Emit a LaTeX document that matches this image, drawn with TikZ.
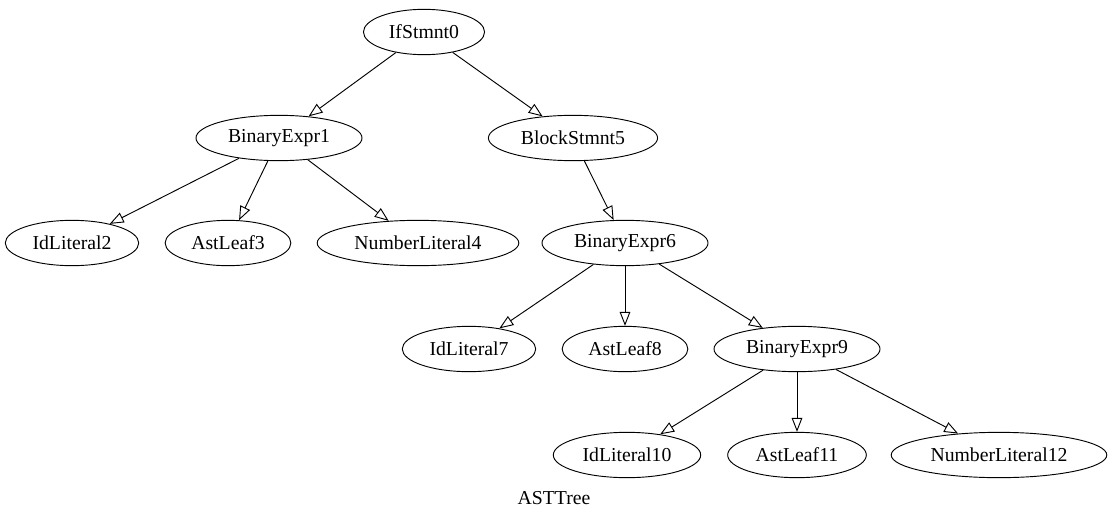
\documentclass[tikz,border=0pt]{standalone}
\usepackage{fontspec}
\setmainfont{Liberation Serif}
\newfontfamily\gvfont{Liberation Serif}
\usepackage{tikz}
\usetikzlibrary{arrows.meta, shapes.geometric}

\tikzset{
  astnode/.style={draw, ellipse, line width=0.7pt, inner xsep=5.8pt, inner ysep=0pt,
    minimum height=34pt, font=\gvfont\fontsize{14.8pt}{17pt}\selectfont},
  astedge/.style={line width=0.7pt, -{Triangle[open, length=10.5pt, width=8pt]}}
}

\begin{document}
\begin{tikzpicture}[x=0.75pt, y=-0.75pt]
  \useasboundingbox (0,0) rectangle (1110,521);
  % rank 0
  \node[astnode] (n0) at (424,32) {IfStmnt0};
  % rank 1
  \node[astnode] (n1) at (279,138) {BinaryExpr1};
  \node[astnode] (n5) at (573,138) {BlockStmnt5};
  % rank 2
  \node[astnode] (n2) at (72,243) {IdLiteral2};
  \node[astnode] (n3) at (228,243) {AstLeaf3};
  \node[astnode] (n4) at (418,243) {NumberLiteral4};
  \node[astnode] (n6) at (625,243) {BinaryExpr6};
  % rank 3
  \node[astnode] (n7) at (469,349) {IdLiteral7};
  \node[astnode] (n8) at (625,349) {AstLeaf8};
  \node[astnode] (n9) at (797,349) {BinaryExpr9};
  % rank 4
  \node[astnode] (n10) at (627,455) {IdLiteral10};
  \node[astnode] (n11) at (797,455) {AstLeaf11};
  \node[astnode] (n12) at (999,455) {NumberLiteral12};
  \node[font=\gvfont\fontsize{14.8pt}{17pt}\selectfont] (title) at (554,498) {ASTTree};
  \foreach \a/\b in {n0/n1, n0/n5, n1/n2, n1/n3, n1/n4, n5/n6,
                     n6/n7, n6/n8, n6/n9, n9/n10, n9/n11, n9/n12} {
    \draw[astedge] (\a) -- (\b);
  }
\end{tikzpicture}
\end{document}
